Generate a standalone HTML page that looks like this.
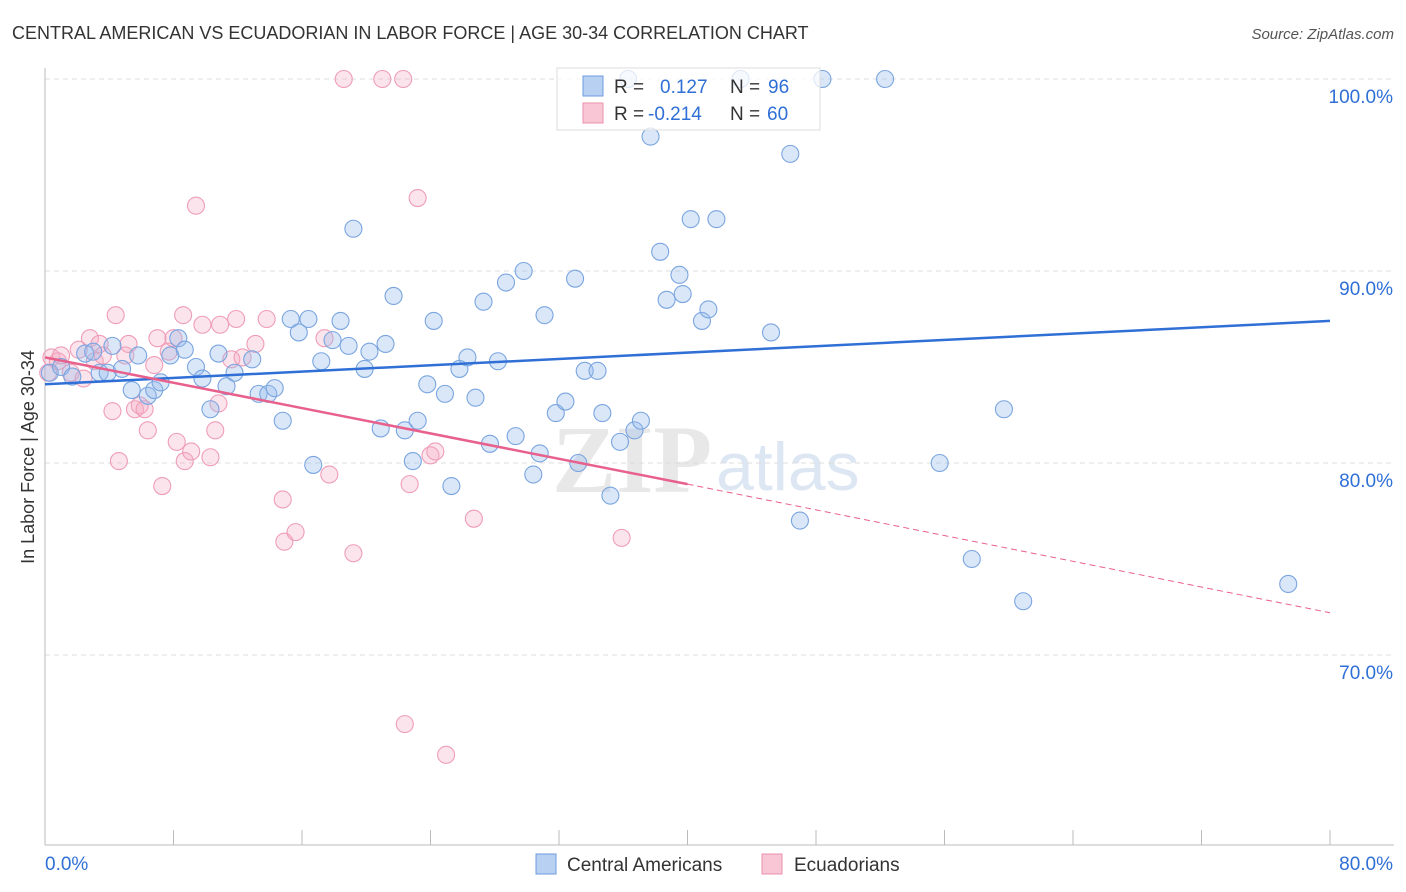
<!DOCTYPE html>
<html><head><meta charset="utf-8"><style>
body{margin:0;background:#fff;font-family:"Liberation Sans",sans-serif}
svg{display:block}
</style></head><body>
<svg id="c" width="1406" height="892">
<text x="12" y="39" font-size="18" fill="#333">CENTRAL AMERICAN VS ECUADORIAN IN LABOR FORCE | AGE 30-34 CORRELATION CHART</text>
<text x="1394" y="39" font-size="15" fill="#555" font-style="italic" text-anchor="end">Source: ZipAtlas.com</text>
<text x="552" y="492" font-size="96" fill="#e8e8e8" font-family="Liberation Serif,serif" font-weight="bold">ZIP</text>
<text x="716" y="490" font-size="68" fill="#dde7f3">atlas</text>
<g id="grid"></g><g id="pts"></g><g id="lines"></g>
<text transform="translate(34,457) rotate(-90)" font-size="18" fill="#333" text-anchor="middle">In Labor Force | Age 30-34</text>
<g>
<rect x="557" y="68" width="263" height="62" fill="rgba(255,255,255,0.75)" stroke="#ddd"/>
<rect x="583" y="76" width="20" height="20" fill="#b8d0f2" stroke="#6d9be0"/>
<rect x="583" y="103" width="20" height="20" fill="#f8c6d4" stroke="#ec90ab"/>
<text x="614" y="93" font-size="19" fill="#333">R =</text>
<text x="660" y="93" font-size="19" fill="#2f6fd6">0.127</text>
<text x="730" y="93" font-size="19" fill="#333">N =</text>
<text x="768" y="93" font-size="19" fill="#2f6fd6">96</text>
<text x="614" y="120" font-size="19" fill="#333">R =</text>
<text x="648" y="120" font-size="19" fill="#2f6fd6">-0.214</text>
<text x="730" y="120" font-size="19" fill="#333">N =</text>
<text x="767" y="120" font-size="19" fill="#2f6fd6">60</text>
</g>
<g>
<rect x="536" y="854" width="20" height="20" fill="#b8d0f2" stroke="#6d9be0"/>
<text x="567" y="871" font-size="19" fill="#333">Central Americans</text>
<rect x="762" y="854" width="20" height="20" fill="#f8c6d4" stroke="#ec90ab"/>
<text x="794" y="871" font-size="19" fill="#333">Ecuadorians</text>
</g>
</svg>
<script>
const yTicks=[100,90,80,70];
const xTickLabels=["0.0%","80.0%"];
const blueX=[0.3,1,1.7,2.5,3,3.4,3.9,4.2,4.8,5.4,5.8,6.4,6.8,7.2,7.8,8.3,8.7,9.4,9.8,10.3,10.8,11.3,11.8,12.9,13.3,13.9,14.3,14.8,15.3,15.8,16.4,16.7,17.2,17.9,18.4,18.9,19.2,19.9,20.2,20.9,21.2,21.7,22.4,22.9,23.2,23.8,24.2,24.9,25.3,25.8,26.3,26.8,27.3,27.7,28.2,28.7,29.3,29.8,30.4,30.8,31.1,31.8,32.4,33,33.2,33.6,34.4,34.7,35.2,35.8,36.3,36.7,37.1,37.7,38.3,38.7,39.5,39.7,40.2,40.9,41.3,41.8,43.3,45.2,46.4,47,48.4,52.3,55.7,57.7,59.7,60.9,77.4];
const blueY=[84.7,85,84.5,85.7,85.8,84.7,84.7,86.1,84.9,83.8,85.6,83.5,83.8,84.2,85.6,86.5,85.9,85,84.4,82.8,85.7,84,84.7,85.4,83.6,83.6,83.9,82.2,87.5,86.8,87.5,79.9,85.3,86.4,87.4,86.1,92.2,84.9,85.8,81.8,86.2,88.7,81.7,80.1,82.2,84.1,87.4,83.6,78.8,84.9,85.5,83.4,88.4,81,85.3,89.4,81.4,90,79.4,80.5,87.7,82.6,83.2,89.6,80,84.8,84.8,82.6,78.3,81.1,100,81.7,82.2,97,91,88.5,89.8,88.8,92.7,87.4,88,92.7,100,86.8,96.1,77,100,100,80,75,82.8,72.8,73.7];
const pinkX=[0.2,0.4,0.8,1,1.6,2.1,2.4,2.8,3.1,3.4,3.6,4.2,4.4,4.6,5,5.2,5.6,5.9,6.2,6.4,6.8,7,7.3,7.7,8,8.2,8.6,8.7,9.1,9.4,9.8,10.3,10.6,10.8,10.9,11.6,11.9,12.3,13.1,13.8,14.8,14.9,15.6,17.4,17.7,18.6,19.2,21,22.3,22.4,22.7,23.2,24,24.3,24.97,26.7,35.9];
const pinkY=[84.7,85.5,85.3,85.6,84.7,85.9,84.4,86.5,85.3,86.2,85.6,82.7,87.7,80.1,85.6,86.2,82.8,83,82.8,81.7,85.1,86.5,78.8,85.8,86.5,81.1,87.7,80.1,80.6,93.4,87.2,80.3,81.7,83.1,87.2,85.4,87.5,85.5,86.2,87.5,78.1,75.9,76.4,86.5,79.4,100,75.3,100,100,66.4,78.9,93.8,80.4,80.6,64.8,77.1,76.1];
const blueLine=[0,84.1,80,87.4];
const pinkLine=[0,85.5,40,78.9,80,72.2];
const X=v=>45+v*1285/80, Y=v=>79+(100-v)*19.2;
const ns='http://www.w3.org/2000/svg',svg=document.getElementById('c');
function mk(t,a,p){const e=document.createElementNS(ns,t);for(const k in a)e.setAttribute(k,a[k]);(p||svg).appendChild(e);return e;}
const g=document.getElementById('grid');
yTicks.forEach(t=>{const l=mk('line',{x1:45,x2:1394,y1:Y(t),y2:Y(t),stroke:'#ddd','stroke-dasharray':'5,4'},g);


const tx=mk('text',{x:1393,y:Y(t)+24,'font-size':19,fill:'#2f6fd6','text-anchor':'end'},g);tx.textContent=t.toFixed(1)+'%';

});
const ax=mk('line',{x1:45,x2:45,y1:68,y2:845,stroke:'#bbb'},g);


const xa=mk('line',{x1:45,x2:1394,y1:845,y2:845,stroke:'#bbb'},g);


for(let i=0;i<=10;i++){const t=mk('line',{x1:X(i*8),x2:X(i*8),y1:830,y2:845,stroke:'#bbb'},g);

}
[[0,'start',45],[1,'end',1393]].forEach(([i,a,x])=>{const t=mk('text',{x:x,y:870,'font-size':19,fill:'#2f6fd6','text-anchor':a},g);t.textContent=xTickLabels[i];

});
const pg=document.getElementById('pts');
function pts(xs,ys,f,s,n){xs.forEach((x,i)=>{const c=mk('circle',{cx:X(x),cy:Y(ys[i]),r:8.5,fill:f,stroke:s,'stroke-width':1.1},pg);

});}
pts(pinkX,pinkY,'rgba(246,170,196,0.32)','#ef9db7','ecuadorian-point');
pts(blueX,blueY,'rgba(150,186,236,0.35)','#7aa5e0','central-american-point');
const lg=document.getElementById('lines');
const bl=mk('line',{x1:X(blueLine[0]),y1:Y(blueLine[1]),x2:X(blueLine[2]),y2:Y(blueLine[3]),stroke:'#2f6fd6','stroke-width':2.5},lg);


const pl=mk('line',{x1:X(pinkLine[0]),y1:Y(pinkLine[1]),x2:X(pinkLine[2]),y2:Y(pinkLine[3]),stroke:'#e8608c','stroke-width':2.5},lg);


const pd=mk('line',{x1:X(pinkLine[2]),y1:Y(pinkLine[3]),x2:X(pinkLine[4]),y2:Y(pinkLine[5]),stroke:'#e8608c','stroke-width':1,'stroke-dasharray':'6,4'},lg);


</script>
</body></html>
